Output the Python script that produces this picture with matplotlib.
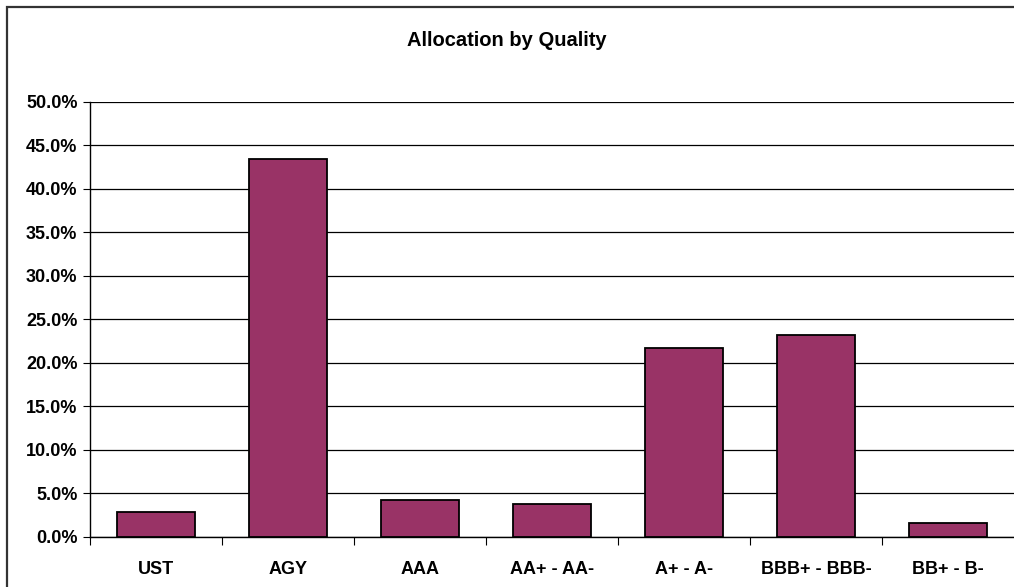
import matplotlib
matplotlib.use("Agg")
import matplotlib.pyplot as plt
from matplotlib.patches import Rectangle
from matplotlib.ticker import MultipleLocator, FuncFormatter

plt.rcParams['font.family'] = ['Liberation Sans', 'DejaVu Sans']
plt.rcParams['font.weight'] = 'bold'

categories = ['UST', 'AGY', 'AAA', 'AA+ - AA-', 'A+ - A-', 'BBB+ - BBB-', 'BB+ - B-']
allocation = [2.8, 43.4, 4.2, 3.7, 21.7, 23.2, 1.5]

fig = plt.figure(figsize=(10.14, 5.87), dpi=100)
ax = fig.add_axes([90 / 1014, 1 - 536.5 / 587, 924 / 1014, 434.5 / 587])

x = list(range(len(categories)))
ax.bar(x, allocation, width=0.59, color='#993366', edgecolor='black', linewidth=1.3, zorder=3)

ax.set_xlim(-0.5, len(categories) - 0.5)
ax.set_ylim(0, 50)
ax.yaxis.set_major_locator(MultipleLocator(5))
ax.yaxis.set_major_formatter(FuncFormatter(lambda v, p: f'{v:.1f}%'))
ax.grid(axis='y', color='black', linewidth=0.9, zorder=0)

ax.set_xticks([i + 0.5 for i in range(-1, len(categories) - 1)])
ax.set_xticklabels([])
ax.set_xticks(x, minor=True)
ax.set_xticklabels(categories, minor=True)
ax.tick_params(axis='x', which='minor', length=0, pad=18, labelsize=13)
ax.tick_params(axis='x', which='major', length=6, direction='out', color='black')
ax.tick_params(axis='y', length=5, direction='out', labelsize=13, pad=4)

for s in ['top', 'right']:
    ax.spines[s].set_visible(False)
for s in ['left', 'bottom']:
    ax.spines[s].set_color('black')
    ax.spines[s].set_linewidth(1.0)

fig.text(0.5, 1 - 41 / 587, 'Allocation by Quality', ha='center', va='center',
         fontsize=14.5, fontweight='bold')

# chart frame (only top and left edges fall inside the image)
fig.patches.append(Rectangle((6.5 / 1014, -10 / 587), 1100 / 1014, (587 - 7 + 10) / 587,
                             transform=fig.transFigure, fill=False,
                             edgecolor='#333333', linewidth=1.6))

fig.savefig('out.png', dpi=100)
